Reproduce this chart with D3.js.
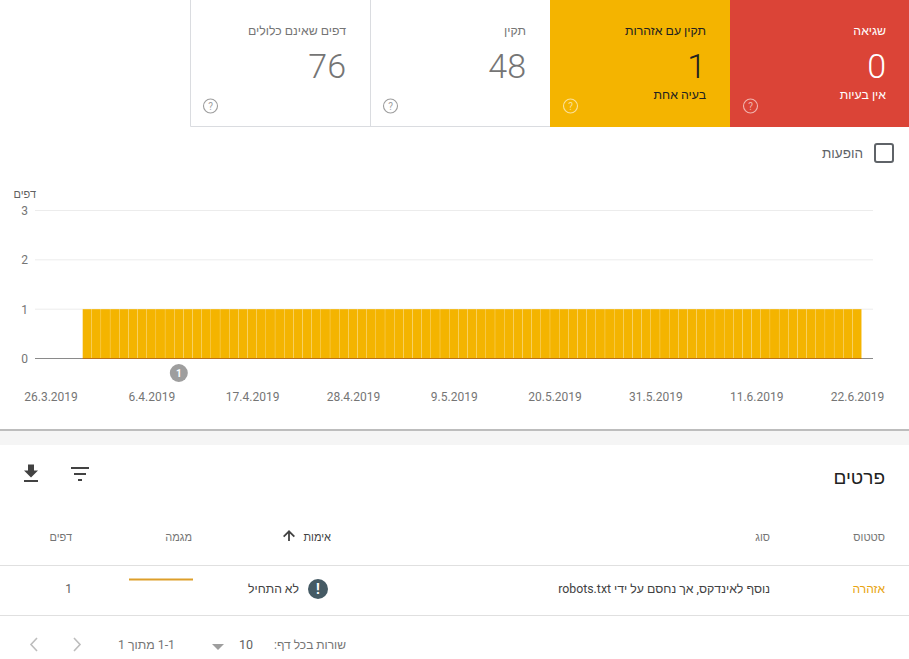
<!DOCTYPE html>
<html lang="he">
<head>
<meta charset="utf-8">
<script src="https://cdn.jsdelivr.net/npm/d3@7"></script>
<style>
html, body { margin: 0; padding: 0; background: #fff; overflow: hidden; }
svg { display: block; }
text { font-family: Roboto, "Liberation Sans", sans-serif; }
.rtl { direction: rtl; text-anchor: start; }
</style>
</head>
<body>
<div id="chart"></div>
<script>
// summary cards, right to left on the page
var cardTitles = ['שגיאה', 'תקין עם אזהרות', 'תקין', 'דפים שאינם כלולים'];
var cardValues = [0, 1, 48, 76];
var cardNotes = ['אין בעיות', 'בעיה אחת', '', ''];
var cardFills = ['#db4437', '#f4b400', '#fff', '#fff'];
var cardInk = ['#fff', '#212121', '#757575', '#757575'];

var firstBarDate = '2019-03-30';
var pageCounts = [
	1,1,1,1,1,1,1,1,1,1,1,1,1,1,1,1,1,
	1,1,1,1,1,1,1,1,1,1,1,1,1,1,1,1,1,
	1,1,1,1,1,1,1,1,1,1,1,1,1,1,1,1,1,
	1,1,1,1,1,1,1,1,1,1,1,1,1,1,1,1,1,
	1,1,1,1,1,1,1,1,1,1,1,1,1,1,1,1,1
];
var dateTicks = ['2019-03-26', '2019-04-06', '2019-04-17', '2019-04-28', '2019-05-09', '2019-05-20', '2019-05-31', '2019-06-11', '2019-06-22'];
var countTicks = [0, 1, 2, 3];
var eventDates = ['2019-04-09'];
var eventLabels = ['1'];

var tableHeads = ['סטטוס', 'סוג', 'אימות', 'מגמה', 'דפים'];
var rowStatus = 'אזהרה';
var rowType = 'נוסף לאינדקס, אך נחסם על ידי robots.txt';
var rowCheck = 'לא התחיל';
var rowTrend = [1, 1, 1, 1, 1, 1, 1, 1];
var rowPages = 1;

var W = 909, H = 659;
var parseDay = d3.utcParse('%Y-%m-%d');
var fmtDay = function(d) { return d.getUTCDate() + '.' + (d.getUTCMonth() + 1) + '.' + d.getUTCFullYear(); };

var svg = d3.select('#chart').append('svg').attr('width', W).attr('height', H);

function label(x, y, str, size, color, cls) {
	return svg.append('text').attr('class', cls === undefined ? 'rtl' : cls)
		.attr('x', x).attr('y', y).attr('font-size', size).attr('fill', color).text(str);
}

function helpIcon(cx, cy, color) {
	var g = svg.append('g').attr('transform', 'translate(' + cx + ',' + cy + ')');
	g.append('circle').attr('r', 7).attr('fill', 'none').attr('stroke', color).attr('stroke-width', 1.1);
	g.append('text').attr('text-anchor', 'middle').attr('y', 3.5).attr('font-size', 10).attr('fill', color).text('?');
}

// cards
var cardW = 180, cardRight = 910;
cardTitles.forEach(function(t, i) {
	var x1 = cardRight - cardW * (i + 1);
	svg.append('rect').attr('x', x1).attr('y', 0).attr('width', cardW).attr('height', 127).attr('fill', cardFills[i]);
	var right = x1 + 156;
	label(right, 35, t, 12.3, cardInk[i]).attr('font-weight', i < 2 ? 500 : 400);
	svg.append('text').attr('x', right).attr('y', 78).attr('text-anchor', 'end')
		.attr('font-size', 34).attr('font-weight', 300).attr('fill', cardInk[i]).text(cardValues[i]);
	if (cardNotes[i]) label(right, 99, cardNotes[i], 12.3, cardInk[i]).attr('font-weight', 500);
	helpIcon(x1 + 20.5, 106, i < 2 ? 'rgba(255,255,255,.6)' : '#9e9e9e');
});
svg.append('path').attr('d', 'M190.5,0V126.5H550M370.5,0V127').attr('fill', 'none').attr('stroke', '#dadce0');

// checkbox
svg.append('rect').attr('x', 875).attr('y', 144).attr('width', 18).attr('height', 18).attr('rx', 2)
	.attr('fill', 'none').attr('stroke', '#5f6368').attr('stroke-width', 2);
label(863, 158, 'הופעות', 13.5, '#5f6368');

// chart
var xDay = d3.scaleUtc().domain([parseDay(dateTicks[0]), parseDay(dateTicks[dateTicks.length - 1])]).range([50.5, 857]);
var y = d3.scaleLinear().domain([0, 3]).range([358.5, 210.5]);
var dayW = xDay(d3.utcDay.offset(parseDay(dateTicks[0]), 1)) - xDay(parseDay(dateTicks[0]));

label(36, 198, 'דפים', 11, '#616161');

var yAxis = svg.append('g').attr('transform', 'translate(35,0)')
	.call(d3.axisLeft(y).tickValues(countTicks).tickSize(0).tickPadding(7).tickFormat(d3.format('d')));
yAxis.select('.domain').remove();
yAxis.selectAll('text').attr('font-size', 12).attr('font-family', null).attr('fill', '#757575');

svg.append('g').selectAll('line').data(countTicks.filter(function(d) { return d > 0; })).join('line')
	.attr('x1', 35).attr('x2', 873).attr('y1', function(d) { return y(d); }).attr('y2', function(d) { return y(d); })
	.attr('stroke', '#ececec');

svg.append('line').attr('x1', 35).attr('x2', 873).attr('y1', y(0)).attr('y2', y(0)).attr('stroke', '#8a8a8a');

svg.append('g').selectAll('rect').data(pageCounts).join('rect')
	.attr('x', function(d, i) { return xDay(d3.utcDay.offset(parseDay(firstBarDate), i)) - dayW / 2 + 0.12; })
	.attr('width', dayW - 0.24)
	.attr('y', function(d) { return y(d); })
	.attr('height', function(d) { return y(0) - y(d); })
	.attr('fill', '#f4b400');

// baseline reads brownish where it runs under the bars
svg.append('line')
	.attr('x1', xDay(parseDay(firstBarDate)) - dayW / 2)
	.attr('x2', xDay(d3.utcDay.offset(parseDay(firstBarDate), pageCounts.length - 1)) + dayW / 2)
	.attr('y1', y(0)).attr('y2', y(0)).attr('stroke', '#b9701a');

var xAxis = svg.append('g').attr('transform', 'translate(0,389)')
	.call(d3.axisBottom(xDay).tickValues(dateTicks.map(parseDay)).tickSize(0).tickPadding(0).tickFormat(fmtDay));
xAxis.select('.domain').remove();
xAxis.selectAll('text').attr('font-size', 12).attr('font-family', null).attr('fill', '#757575').attr('y', 3);

var marks = svg.append('g').selectAll('g').data(eventDates).join('g')
	.attr('transform', function(d) { return 'translate(' + xDay(parseDay(d)) + ',373)'; });
marks.append('circle').attr('r', 9).attr('fill', '#9e9e9e');
marks.append('text').attr('text-anchor', 'middle').attr('y', 3.5).attr('font-size', 10).attr('font-weight', 700).attr('fill', '#fff')
	.text(function(d, i) { return eventLabels[i]; });

// divider between chart and table
svg.append('rect').attr('x', 0).attr('y', 431).attr('width', W).attr('height', 14).attr('fill', '#f5f5f5');
svg.append('rect').attr('x', 0).attr('y', 429).attr('width', W).attr('height', 2).attr('fill', '#bdbdbd');

// table
label(885, 484, 'פרטים', 19, '#212121');
svg.append('path').attr('d', 'M38,467.5h-4v-6h-6v6h-4l7,7zM24,477v2h14v-2z').attr('transform', 'translate(0,3)').attr('fill', '#424242');
svg.append('path').attr('d', 'M71,467h18v2h-18zM74,473h12v2h-12zM78,479h4v2h-4z').attr('fill', '#424242');

var headRight = [885, 770, 331, 192, 72];
tableHeads.forEach(function(h, i) {
	label(headRight[i], 541, h, 11, i === 2 ? '#424242' : '#757575');
});
svg.append('path').attr('d', 'M289,530l-6,6 1.3,1.3 3.8,-3.8v7.5h1.8v-7.5l3.8,3.8 1.3,-1.3z').attr('fill', '#424242');

svg.append('line').attr('x1', 0).attr('x2', W).attr('y1', 565.5).attr('y2', 565.5).attr('stroke', '#e0e0e0');
svg.append('line').attr('x1', 0).attr('x2', W).attr('y1', 615.5).attr('y2', 615.5).attr('stroke', '#e0e0e0');

label(885, 593, rowStatus, 12, '#e8a30e').attr('font-weight', 500);
label(770, 593, rowType, 12.3, '#424242');
svg.append('circle').attr('cx', 318).attr('cy', 589).attr('r', 10).attr('fill', '#455a64');
svg.append('text').attr('x', 318).attr('y', 594).attr('text-anchor', 'middle').attr('font-size', 14).attr('font-weight', 700).attr('fill', '#fff').text('!');
label(299, 593, rowCheck, 12.2, '#424242');

var xTrend = d3.scaleLinear().domain([0, rowTrend.length - 1]).range([129, 193]);
var yTrend = d3.scaleLinear().domain([0, 1]).range([600, 579.5]);
svg.append('path').datum(rowTrend)
	.attr('d', d3.line().x(function(d, i) { return xTrend(i); }).y(function(d) { return yTrend(d); }))
	.attr('fill', 'none').attr('stroke', '#dd9f2b').attr('stroke-width', 2);
svg.append('text').attr('x', 72).attr('y', 593).attr('text-anchor', 'end').attr('font-size', 12).attr('fill', '#616161').text(rowPages);

// pagination
label(346, 649, 'שורות בכל דף:', 12, '#757575');
svg.append('text').attr('x', 246).attr('y', 649).attr('text-anchor', 'middle').attr('font-size', 12.5).attr('fill', '#616161').text('10');
svg.append('path').attr('d', 'M212,644h12l-6,6z').attr('fill', '#9e9e9e');
label(175, 649, '1-1 מתוך 1', 12.3, '#757575');
svg.append('path').attr('d', 'M74,638l6,6.5 -6,6.5M37,638l-6,6.5 6,6.5').attr('fill', 'none').attr('stroke', '#bdbdbd').attr('stroke-width', 1.6);
</script>
</body>
</html>
